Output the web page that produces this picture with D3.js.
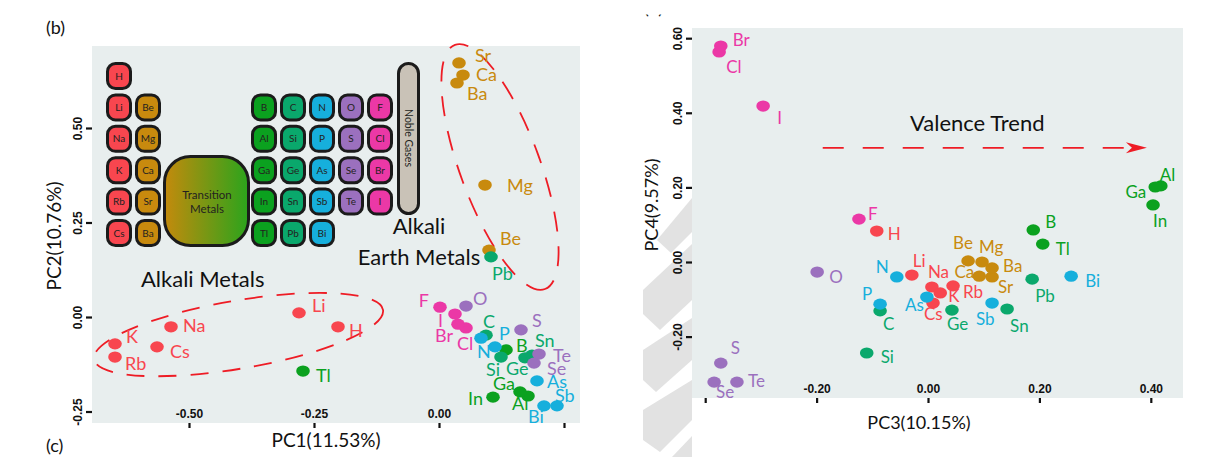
<!DOCTYPE html>
<html>
<head>
<meta charset="utf-8">
<script src="https://cdn.jsdelivr.net/npm/d3@7"></script>
<style>
  body { margin: 0; background: #fff; }
  svg { display: block; font-family: Lato, "Open Sans", sans-serif; }
</style>
</head>
<body>
<svg id="chart" width="1210" height="457"></svg>
<script>
// ---- element scores on the first four principal components ----
const elements = ["H","Li","Na","K","Rb","Cs","Be","Mg","Ca","Sr","Ba",
  "B","Al","Ga","In","Tl","C","Si","Ge","Sn","Pb","N","P","As","Sb","Bi",
  "O","S","Se","Te","F","Cl","Br","I"];
const family = ["alk","alk","alk","alk","alk","alk","ae","ae","ae","ae","ae",
  "g13","g13","g13","g13","g13","g14","g14","g14","g14","g14","g15","g15","g15","g15","g15",
  "g16","g16","g16","g16","hal","hal","hal","hal"];
const pc1 = [-0.202,-0.280,-0.536,-0.648,-0.648,-0.564,0.100,0.092,0.048,0.040,0.036,
  0.134,0.178,0.162,0.108,-0.272,0.094,0.124,0.172,0.186,0.104,0.084,0.112,0.196,0.236,0.210,
  0.054,0.164,0.190,0.200,0.002,0.054,0.038,0.032];
const pc2 = [-0.026,0.011,-0.026,-0.071,-0.106,-0.079,0.177,0.349,0.640,0.672,0.619,
  -0.087,-0.209,-0.198,-0.212,-0.143,-0.048,-0.106,-0.108,-0.101,0.159,-0.056,-0.079,-0.169,-0.235,-0.235,
  0.029,-0.034,-0.122,-0.098,0.026,-0.029,-0.019,0.008];
const pc3 = [-0.092,-0.029,0.007,0.022,0.045,0.009,0.072,0.097,0.092,0.115,0.115,
  0.189,0.418,0.408,0.404,0.206,-0.086,-0.110,0.043,0.142,0.187,-0.056,-0.086,-0.002,0.115,0.257,
  -0.199,-0.372,-0.384,-0.343,-0.124,-0.375,-0.372,-0.296];
const pc4 = [0.083,-0.035,-0.067,-0.083,-0.064,-0.110,0.003,0.000,-0.038,-0.040,-0.016,
  0.086,0.204,0.201,0.153,0.048,-0.131,-0.244,-0.129,-0.126,-0.046,-0.040,-0.113,-0.094,-0.110,-0.038,
  -0.027,-0.271,-0.322,-0.322,0.115,0.563,0.579,0.418];

const familyKeys   = ["alk","ae","g13","g14","g15","g16","hal"];
const familyColors = ["#f8464f","#c88a0e","#0ba11f","#0aa86c","#16afdc","#9b70be","#eb38a6"];

// axis ticks
const xTicksPC1 = [-0.5, -0.25, 0, 0.25];
const xTickTextPC1 = ["-0.50", "-0.25", "0.00", ""];
const yTicksPC2 = [-0.25, 0, 0.25, 0.5];
const yTickTextPC2 = ["-0.25", "0.00", "0.25", "0.50"];
const xTicksPC3 = [-0.4, -0.2, 0, 0.2, 0.4];
const xTickTextPC3 = ["", "-0.20", "0.00", "0.20", "0.40"];
const yTicksPC4 = [-0.2, 0, 0.2, 0.4, 0.6];
const yTickTextPC4 = ["-0.20", "0.00", "0.20", "0.40", "0.60"];

// periodic-table inset: columns of main-group elements
const tableColumns = [
  { col: 0,  row0: 0, fam: "alk", symbols: ["H","Li","Na","K","Rb","Cs"] },
  { col: 1,  row0: 1, fam: "ae",  symbols: ["Be","Mg","Ca","Sr","Ba"] },
  { col: 5,  row0: 1, fam: "g13", symbols: ["B","Al","Ga","In","Tl"] },
  { col: 6,  row0: 1, fam: "g14", symbols: ["C","Si","Ge","Sn","Pb"] },
  { col: 7,  row0: 1, fam: "g15", symbols: ["N","P","As","Sb","Bi"] },
  { col: 8,  row0: 1, fam: "g16", symbols: ["O","S","Se","Te"] },
  { col: 9,  row0: 1, fam: "hal", symbols: ["F","Cl","Br","I"] }
];

const color = d3.scaleOrdinal().domain(familyKeys).range(familyColors);
const svg = d3.select("#chart");

// ---- label placement (pixel offsets from each marker) ----
const labelPosB = {
  Na:[12,5,"start"], K:[11,-1,"start"], Rb:[10,13,"start"], Cs:[13,11,"start"],
  Li:[13,-1,"start"], H:[11,10,"start"], Tl:[13,11,"start"], Be:[11,-5,"start"],
  Pb:[1,23,"start"], Sr:[16,-1,"start"], Ca:[13,6,"start"], Ba:[10,17,"start"],
  Mg:[22,7,"start"], F:[-11,0,"end"], O:[7,-1,"start"], I:[-12,13,"end"],
  Br:[-5,18,"end"], Cl:[-9,22,"start"], C:[-3,-7,"start"], N:[-4,20,"start"],
  P:[4,-7,"start"], B:[10,2,"start"], Si:[-1,19,"end"], S:[11,-3,"start"],
  Ge:[-19,17,"start"], Sn:[3,-8,"start"], Te:[14,8,"start"], Se:[13,12,"start"],
  As:[10,7,"start"], Ga:[-5,-2,"end"], Al:[-16,14,"start"], In:[-10,8,"end"],
  Bi:[-16,17,"start"], Sb:[-2,-4,"start"]
};
const labelPosD = {
  Br:[12,0,"start"], Cl:[7,21,"start"], I:[14,18,"start"], F:[9,1,"start"],
  H:[11,9,"start"], N:[-8,-4,"end"], Li:[1,-8,"start"], Na:[-4,-9,"start"],
  K:[8,9,"start"], Rb:[10,12,"start"], Cs:[-9,17,"start"], As:[-3,14,"end"],
  Ge:[-5,20,"start"], P:[-8,-4,"end"], C:[3,19,"start"], O:[12,11,"start"],
  Si:[14,10,"start"], S:[10,-9,"start"], Se:[2,16,"start"], Te:[11,5,"start"],
  Be:[-15,-12,"start"], Mg:[-3,-9,"start"], Ca:[-5,2,"end"], Ba:[11,4,"start"],
  Sr:[6,16,"start"], Tl:[13,11,"start"], B:[12,-2,"start"], Pb:[3,23,"start"],
  Bi:[14,11,"start"], Sb:[-16,22,"start"], Sn:[3,23,"start"], Al:[-1,-5,"start"],
  Ga:[-9,11,"end"], In:[0,22,"start"]
};

const rows = elements.map((el, i) => ({ el, fam: family[i], pc1: pc1[i], pc2: pc2[i], pc3: pc3[i], pc4: pc4[i] }));

// ---- light grey decoration behind the right panel's axis ----
const deco = svg.append("g").attr("fill", "#e2e2e2");
[
  [[692,198],[692,232],[671,253],[657,240]],
  [[692,244],[692,300],[660,330],[643,314],[643,290]],
  [[692,318],[692,360],[656,392],[643,380],[643,350]],
  [[692,380],[692,420],[660,452],[643,440],[643,410]],
  [[692,436],[692,457],[672,457]]
].forEach(p => deco.append("polygon").attr("points", p.map(q => q.join(",")).join(" ")));

function drawPanel(opts) {
  const { x, y, xKey, yKey, labelPos, fontSize, xTicks, xTickText, yTicks, yTickText, rx, ry } = opts;
  const [x0, x1] = x.range(), [y0, y1] = y.range();
  const g = svg.append("g");
  g.append("rect").attr("x", x0).attr("y", y1).attr("width", x1 - x0).attr("height", y0 - y1)
    .attr("fill", "#e8eeee");

  const ax = g.append("g").attr("transform", `translate(0,${y0})`)
    .call(d3.axisBottom(x).tickValues(xTicks).tickSize(5).tickFormat((d, i) => xTickText[i]));
  ax.select(".domain").remove();
  ax.selectAll(".tick line").attr("stroke", "#111").attr("stroke-width", 2.2);
  ax.selectAll(".tick text").attr("y", -5).attr("dy", 0).attr("fill", "#111")
    .style("font-size", "12px").style("font-weight", 700);

  const ay = g.append("g").attr("transform", `translate(${x0},0)`)
    .call(d3.axisLeft(y).tickValues(yTicks).tickSize(6).tickFormat((d, i) => yTickText[i]));
  ay.select(".domain").remove();
  ay.selectAll(".tick line").attr("stroke", "#111").attr("stroke-width", 2.2);
  ay.selectAll(".tick text").attr("transform", "rotate(-90)").attr("x", 0).attr("y", -10)
    .attr("dy", 0).attr("text-anchor", "middle").attr("fill", "#111")
    .style("font-size", "12px").style("font-weight", 700);

  opts.extra && opts.extra(g);

  g.append("g").selectAll("ellipse").data(rows).join("ellipse")
    .attr("cx", d => x(d[xKey])).attr("cy", d => y(d[yKey]))
    .attr("rx", rx).attr("ry", ry).attr("fill", d => color(d.fam));

  g.append("g").selectAll("text").data(rows).join("text")
    .attr("x", d => x(d[xKey]) + labelPos[d.el][0])
    .attr("y", d => y(d[yKey]) + labelPos[d.el][1])
    .attr("text-anchor", d => labelPos[d.el][2])
    .attr("fill", d => color(d.fam))
    .style("font-size", fontSize + "px")
    .text(d => d.el);
  return g;
}

// dashed ellipse through two end points of its long axis (data units)
function dashedEllipse(g, x, y, a, b, halfMinor, dash) {
  const p = [x(a[0]), y(a[1])], q = [x(b[0]), y(b[1])];
  const cx = (p[0] + q[0]) / 2, cy = (p[1] + q[1]) / 2;
  const ang = Math.atan2(q[1] - p[1], q[0] - p[0]) * 180 / Math.PI;
  const semi = Math.hypot(q[0] - p[0], q[1] - p[1]) / 2;
  g.append("ellipse").attr("cx", 0).attr("cy", 0).attr("rx", semi).attr("ry", halfMinor)
    .attr("transform", `translate(${cx},${cy}) rotate(${ang})`)
    .attr("fill", "none").attr("stroke", "#ee1c25").attr("stroke-width", 1.8)
    .attr("stroke-dasharray", dash);
}

// ---------------- panel (b): PC1 vs PC2 ----------------
const xB = d3.scaleLinear().domain([-0.694, 0.282]).range([92, 580]);
const yB = d3.scaleLinear().domain([-0.2804, 0.7169]).range([423, 46]);

drawPanel({
  x: xB, y: yB, xKey: "pc1", yKey: "pc2", labelPos: labelPosB, fontSize: 18,
  xTicks: xTicksPC1, xTickText: xTickTextPC1, yTicks: yTicksPC2, yTickText: yTickTextPC2,
  rx: 6.8, ry: 5.6,
  extra: g => {
    // periodic-table inset
    const colX = d => 119 + d * 29;
    const rowY = r => 76 + r * 31.4;
    const cell = g.append("g");
    tableColumns.forEach(c => {
      c.symbols.forEach((s, k) => {
        const cx = colX(c.col), cy = rowY(c.row0 + k);
        cell.append("rect").attr("x", cx - 11.5).attr("y", cy - 12.5).attr("width", 23).attr("height", 25)
          .attr("rx", 8).attr("fill", color(c.fam)).attr("stroke", "#1b1b1b").attr("stroke-width", 3);
        cell.append("text").attr("x", cx).attr("y", cy + 3.6).attr("text-anchor", "middle")
          .attr("fill", "#231f20").style("font-size", "10px").text(s);
      });
    });
    const grad = svg.append("defs").append("linearGradient").attr("id", "tmGrad");
    grad.append("stop").attr("offset", "0%").attr("stop-color", "#c48a0c");
    grad.append("stop").attr("offset", "100%").attr("stop-color", "#2ba41c");
    g.append("rect").attr("x", 164.5).attr("y", 156.5).attr("width", 84).attr("height", 89)
      .attr("rx", 26).attr("fill", "url(#tmGrad)").attr("stroke", "#1b1b1b").attr("stroke-width", 3);
    g.append("text").attr("x", 207).attr("y", 199).attr("text-anchor", "middle")
      .style("font-size", "11.5px").attr("fill", "#231f20").text("Transition");
    g.append("text").attr("x", 207).attr("y", 213).attr("text-anchor", "middle")
      .style("font-size", "11.5px").attr("fill", "#231f20").text("Metals");
    g.append("rect").attr("x", 398.5).attr("y", 63.5).attr("width", 20).attr("height", 150)
      .attr("rx", 10).attr("fill", "#c9c2b7").attr("stroke", "#1b1b1b").attr("stroke-width", 3);
    g.append("text").attr("transform", "translate(405,138) rotate(90)").attr("text-anchor", "middle")
      .style("font-size", "10.5px").attr("fill", "#231f20").text("Noble Gases");

    g.append("text").attr("x", 141).attr("y", 287).style("font-size", "22px").attr("fill", "#111")
      .text("Alkali Metals");
    g.append("text").attr("x", 419).attr("y", 234).attr("text-anchor", "middle")
      .style("font-size", "22px").attr("fill", "#111").text("Alkali");
    g.append("text").attr("x", 419).attr("y", 265).attr("text-anchor", "middle")
      .style("font-size", "22px").attr("fill", "#111").text("Earth Metals");

    dashedEllipse(g, xB, yB, [-0.690, -0.112], [-0.112, 0.019], 34, "18 14");
    dashedEllipse(g, xB, yB, [0.032, 0.720], [0.212, 0.074], 40, "20 15");
  }
});

svg.append("text").attr("x", 326).attr("y", 447).attr("text-anchor", "middle")
  .style("font-size", "19px").attr("fill", "#111").text("PC1(11.53%)");
svg.append("text").attr("transform", "translate(61,236) rotate(-90)").attr("text-anchor", "middle")
  .style("font-size", "19px").attr("fill", "#111").text("PC2(10.76%)");
svg.append("text").attr("x", 46).attr("y", 34).style("font-size", "18px").attr("fill", "#111").text("(b)");
svg.append("text").attr("x", 46).attr("y", 452).style("font-size", "18px").attr("fill", "#111").text("(c)");

// ---------------- panel (d): PC3 vs PC4 ----------------
const xD = d3.scaleLinear().domain([-0.4237, 0.4578]).range([692, 1183]);
const yD = d3.scaleLinear().domain([-0.3646, 0.6273]).range([398, 28]);

drawPanel({
  x: xD, y: yD, xKey: "pc3", yKey: "pc4", labelPos: labelPosD, fontSize: 17,
  xTicks: xTicksPC3, xTickText: xTickTextPC3, yTicks: yTicksPC4, yTickText: yTickTextPC4,
  rx: 6.8, ry: 5.6,
  extra: g => {
    const trendY = 0.306, trendFrom = -0.189, trendTo = 0.393;
    const ty = yD(trendY), tx0 = xD(trendFrom), tx1 = xD(trendTo);
    g.append("line").attr("x1", tx0).attr("x2", tx1 - 14).attr("y1", ty).attr("y2", ty)
      .attr("stroke", "#ee1c25").attr("stroke-width", 1.7).attr("stroke-dasharray", "21 19");
    g.append("path").attr("d", `M${tx1},${ty} L${tx1 - 21},${ty - 5.5} L${tx1 - 15},${ty} L${tx1 - 21},${ty + 5.5} Z`)
      .attr("fill", "#ee1c25");
    g.append("text").attr("x", 910).attr("y", 131).style("font-size", "22px").attr("fill", "#111")
      .text("Valence Trend");
  }
});

svg.append("text").attr("x", 919).attr("y", 429).attr("text-anchor", "middle")
  .style("font-size", "18px").attr("fill", "#111").text("PC3(10.15%)");
svg.append("text").attr("transform", "translate(658,205) rotate(-90)").attr("text-anchor", "middle")
  .style("font-size", "18px").attr("fill", "#111").text("PC4(9.57%)");

// panel letter, cut off at the top edge
const clip = svg.append("defs").append("clipPath").attr("id", "topCut");
clip.append("rect").attr("x", 600).attr("y", 14.5).attr("width", 100).attr("height", 20);
svg.append("text").attr("x", 644).attr("y", 14).attr("clip-path", "url(#topCut)")
  .style("font-size", "18px").attr("fill", "#111").text("(d)");
</script>
</body>
</html>
